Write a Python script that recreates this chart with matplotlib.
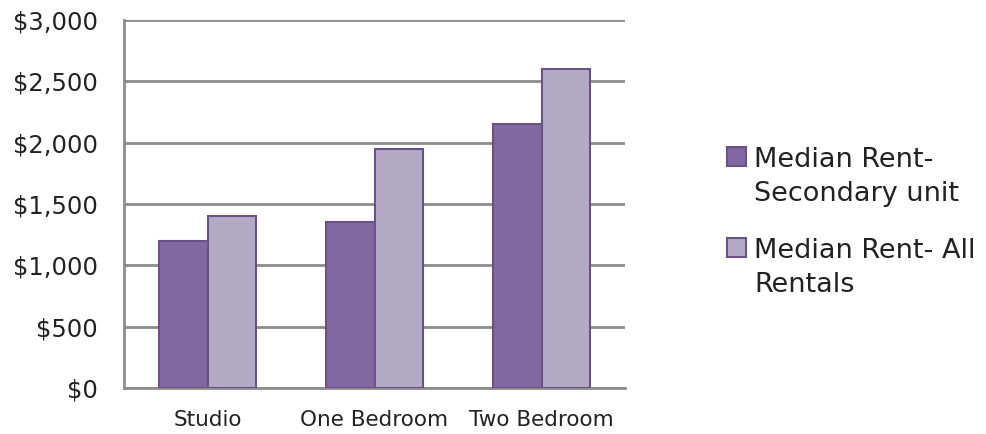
import matplotlib.pyplot as plt
import numpy as np
from matplotlib.patches import Rectangle
from matplotlib.container import BarContainer
from matplotlib.legend_handler import HandlerPatch

categories = ["Studio", "One Bedroom", "Two Bedroom"]
secondary_unit = [1200, 1350, 2150]
all_rentals = [1400, 1950, 2600]
y_ticks = [0, 500, 1000, 1500, 2000, 2500, 3000]
y_labels = ["$0", "$500", "$1,000", "$1,500", "$2,000", "$2,500", "$3,000"]

plt.rcParams['font.family'] = ['DejaVu Sans']

fig = plt.figure(figsize=(9.86, 4.34), dpi=100)
ax = fig.add_axes([124 / 986, 46 / 434, 501 / 986, 368 / 434])

x = np.arange(len(categories))
w = 0.29
ax.bar(x - w / 2, secondary_unit, w, color="#8068a0", edgecolor="#6b5189",
       linewidth=1.5, label="Median Rent-\nSecondary unit", zorder=3)
ax.bar(x + w / 2, all_rentals, w, color="#b3aac6", edgecolor="#6b5189",
       linewidth=1.5, label="Median Rent- All\nRentals", zorder=3)

ax.set_xlim(-0.5, 2.5)
ax.set_ylim(0, 3000)
ax.set_yticks(y_ticks)
ax.set_yticklabels(y_labels, fontsize=17.5, color="#222222")
ax.set_xticks(x)
ax.set_xticklabels(categories, fontsize=15.5, color="#222222")
ax.tick_params(axis="y", length=0, pad=19)
ax.tick_params(axis="x", length=0, pad=16)

ax.grid(axis="y", color="#8c8c8c", linewidth=2, zorder=0)
for s in ["top", "right"]:
    ax.spines[s].set_visible(False)
ax.spines["left"].set_color("#8c8c8c")
ax.spines["left"].set_linewidth(2)
ax.spines["bottom"].set_color("#8c8c8c")
ax.spines["bottom"].set_linewidth(2)


# square sits next to the first line of each label
def top_square(legend, orig_handle, xdescent, ydescent, width, height, fontsize):
    return Rectangle((-xdescent, -ydescent + fontsize * 0.78), width, height)


bar_handler = HandlerPatch(patch_func=top_square,
                           update_func=lambda h, o: h.update_from(o.patches[0]))

leg = fig.legend(loc="center left", bbox_to_anchor=(727 / 986, 0.487), frameon=False,
                 fontsize=19.5, handlelength=0.7, handleheight=0.7, handletextpad=0.3,
                 labelspacing=1.15, borderpad=0, borderaxespad=0,
                 handler_map={BarContainer: bar_handler})
for t in leg.get_texts():
    t.set_linespacing(1.4)
    t.set_color("#222222")

fig.savefig("out.png", dpi=100)
